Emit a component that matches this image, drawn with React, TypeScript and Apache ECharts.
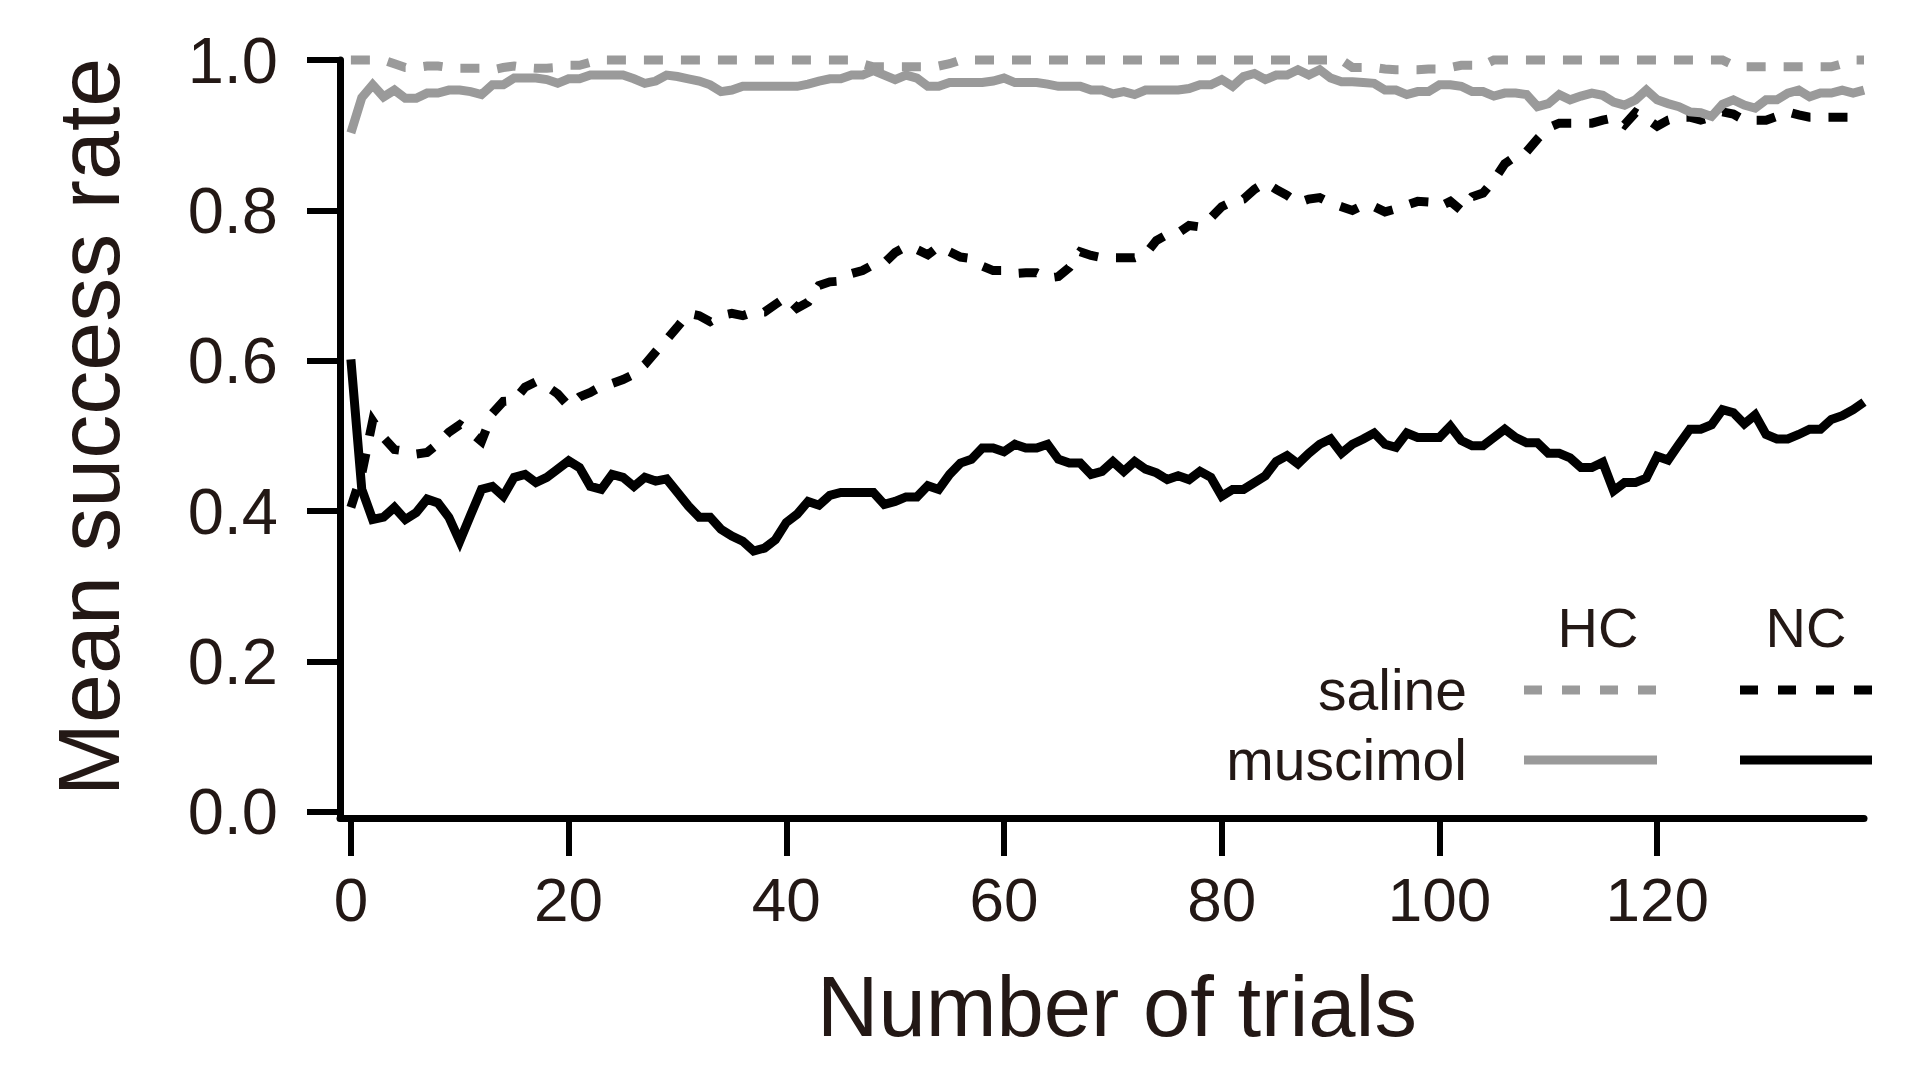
import React, { useEffect, useRef } from "react";
import * as echarts from "echarts";

// Trial index (x values)
const trials: number[] = Array.from({ length: 140 }, (_, i) => i);

// HC saline (grey dashed)
const hcSaline: number[] = [
  1, 1, 1, 1, 0.995, 0.99, 0.99, 0.992, 0.992, 0.99,
  0.989, 0.989, 0.989, 0.987, 0.99, 0.992, 0.99, 0.989, 0.989, 0.99,
  0.993, 0.993, 0.997, 1, 1, 1, 1, 1, 1, 1,
  1, 1, 1, 1, 1, 1, 1, 1, 1, 1,
  1, 1, 1, 1, 1, 1, 1, 0.995, 0.991, 0.991,
  0.991, 0.991, 0.991, 0.991, 0.992, 0.995, 1, 1, 1, 1,
  1, 1, 1, 1, 1, 1, 1, 1, 1, 1,
  1, 1, 1, 1, 1, 1, 1, 1, 1, 1,
  1, 1, 1, 1, 1, 1, 1, 1, 1, 1,
  1, 1, 0.99, 0.99, 0.99, 0.988, 0.987, 0.987, 0.987, 0.988,
  0.988, 0.99, 0.993, 0.993, 0.993, 1, 1, 1, 1, 1,
  1, 1, 1, 1, 1, 1, 1, 1, 1, 1,
  1, 1, 1, 1, 1, 1, 1, 0.993, 0.991, 0.991,
  0.991, 0.991, 0.991, 0.991, 0.991, 0.991, 0.991, 0.995, 1, 1,
];

// HC muscimol (grey solid)
const hcMuscimol: number[] = [
  0.903, 0.95, 0.967, 0.951, 0.96, 0.949, 0.949, 0.956, 0.956, 0.96,
  0.96, 0.958, 0.954, 0.967, 0.967, 0.976, 0.976, 0.976, 0.974, 0.969,
  0.975, 0.975, 0.98, 0.98, 0.98, 0.98, 0.975, 0.969, 0.972, 0.98,
  0.978, 0.975, 0.972, 0.967, 0.958, 0.96, 0.965, 0.965, 0.965, 0.965,
  0.965, 0.965, 0.968, 0.972, 0.975, 0.975, 0.98, 0.98, 0.986, 0.98,
  0.974, 0.98, 0.976, 0.965, 0.965, 0.97, 0.97, 0.97, 0.97, 0.972,
  0.976, 0.97, 0.97, 0.97, 0.968, 0.965, 0.965, 0.965, 0.96, 0.96,
  0.955, 0.958, 0.954, 0.96, 0.96, 0.96, 0.96, 0.962, 0.967, 0.967,
  0.974, 0.965, 0.978, 0.982, 0.974, 0.98, 0.98, 0.987, 0.98, 0.987,
  0.976, 0.971, 0.971, 0.97, 0.969, 0.96, 0.96, 0.954, 0.958, 0.958,
  0.967, 0.967, 0.965, 0.958, 0.958, 0.952, 0.956, 0.956, 0.954, 0.938,
  0.942, 0.954, 0.947, 0.952, 0.956, 0.953, 0.944, 0.94, 0.947, 0.96,
  0.947, 0.942, 0.938, 0.931, 0.93, 0.925, 0.941, 0.947, 0.94, 0.936,
  0.947, 0.947, 0.956, 0.96, 0.951, 0.956, 0.956, 0.96, 0.956, 0.96,
];

// NC saline (black dashed)
const ncSaline: number[] = [
  0.405, 0.45, 0.52, 0.498, 0.482, 0.48, 0.476, 0.478, 0.49, 0.505,
  0.515, 0.505, 0.493, 0.53, 0.546, 0.547, 0.565, 0.572, 0.566, 0.556,
  0.54, 0.552, 0.558, 0.566, 0.57, 0.575, 0.582, 0.595, 0.612, 0.628,
  0.645, 0.663, 0.66, 0.652, 0.66, 0.663, 0.66, 0.665, 0.665, 0.675,
  0.685, 0.67, 0.678, 0.7, 0.705, 0.706, 0.716, 0.72, 0.728, 0.73,
  0.744, 0.752, 0.748, 0.741, 0.752, 0.745, 0.738, 0.736, 0.726, 0.72,
  0.72, 0.716, 0.717, 0.717, 0.71, 0.712, 0.724, 0.745, 0.74, 0.737,
  0.737, 0.737, 0.737, 0.742, 0.76, 0.768, 0.77, 0.78, 0.778, 0.79,
  0.805, 0.812, 0.815, 0.828, 0.837, 0.828, 0.82, 0.81, 0.815, 0.817,
  0.81, 0.805, 0.8, 0.807, 0.805, 0.798, 0.802, 0.807, 0.812, 0.811,
  0.805, 0.812, 0.8, 0.818, 0.823, 0.84, 0.862, 0.872, 0.878, 0.895,
  0.91, 0.916, 0.916, 0.916, 0.916, 0.92, 0.923, 0.914, 0.93, 0.922,
  0.912, 0.92, 0.924, 0.924, 0.92, 0.924, 0.931, 0.928, 0.92, 0.92,
  0.92, 0.925, 0.931, 0.927, 0.924, 0.924, 0.924, 0.924, 0.924, 0.924,
];

// NC muscimol (black solid)
const ncMuscimol: number[] = [
  0.602, 0.429, 0.389, 0.392, 0.405, 0.389, 0.398, 0.416, 0.411, 0.392,
  0.36, 0.395, 0.429, 0.433, 0.42, 0.445, 0.449, 0.438, 0.445, 0.456,
  0.467, 0.458, 0.433, 0.429, 0.449, 0.445, 0.433, 0.445, 0.44, 0.443,
  0.425, 0.407, 0.392, 0.392, 0.376, 0.367, 0.36, 0.347, 0.351, 0.362,
  0.385, 0.396, 0.413, 0.408, 0.421, 0.425, 0.425, 0.425, 0.425, 0.409,
  0.413, 0.419, 0.419, 0.434, 0.429, 0.449, 0.464, 0.469, 0.484, 0.484,
  0.479, 0.489, 0.484, 0.484, 0.489, 0.469, 0.464, 0.464, 0.449, 0.453,
  0.466, 0.453, 0.466, 0.456, 0.451, 0.442, 0.447, 0.442, 0.453, 0.445,
  0.42, 0.429, 0.429, 0.438, 0.447, 0.466, 0.474, 0.463, 0.477, 0.489,
  0.496, 0.477, 0.489, 0.496, 0.504, 0.489, 0.485, 0.504, 0.498, 0.498,
  0.498, 0.513, 0.494, 0.487, 0.487, 0.498, 0.509, 0.498, 0.491, 0.491,
  0.477, 0.477, 0.471, 0.458, 0.458, 0.465, 0.427, 0.438, 0.438, 0.444,
  0.473, 0.468, 0.489, 0.509, 0.509, 0.515, 0.535, 0.531, 0.516, 0.528,
  0.502, 0.496, 0.496, 0.502, 0.509, 0.509, 0.522, 0.527, 0.535, 0.545,
];

const xTicks: number[] = [0, 20, 40, 60, 80, 100, 120];
const yTicks: number[] = [0, 0.2, 0.4, 0.6, 0.8, 1.0];
const legendCols: string[] = ["HC", "NC"];
const legendRows: string[] = ["saline", "muscimol"];

const FONT = "'Liberation Sans', Arial, Helvetica, sans-serif";
const TEXT = "#231815";
const GREY = "#9a9a9a";
const BLACK = "#000000";
const DASH = [19, 18];
const LW = 9;

type Def = { name: string; data: number[]; color: string; dashed: boolean; col: number; row: number };
const defs: Def[] = [
  { name: "HC saline", data: hcSaline, color: GREY, dashed: true, col: 0, row: 0 },
  { name: "NC saline", data: ncSaline, color: BLACK, dashed: true, col: 1, row: 0 },
  { name: "HC muscimol", data: hcMuscimol, color: GREY, dashed: false, col: 0, row: 1 },
  { name: "NC muscimol", data: ncMuscimol, color: BLACK, dashed: false, col: 1, row: 1 },
];

export default function App() {
  const ref = useRef<HTMLDivElement>(null);

  useEffect(() => {
    if (!ref.current) return;
    const chart = echarts.init(ref.current, null, { renderer: "svg" });

    const colX = [[1524, 1657], [1740, 1872]];
    const colCenter = [1598, 1806];
    const rowY = [690, 760];

    const graphic: any[] = [];
    legendCols.forEach((c, i) => {
      graphic.push({
        type: "text",
        x: colCenter[i],
        y: 627,
        style: { text: c, fontSize: 56, fontFamily: FONT, fill: TEXT, align: "center", verticalAlign: "middle" },
      });
    });
    legendRows.forEach((r, i) => {
      graphic.push({
        type: "text",
        x: 1467,
        y: rowY[i],
        style: { text: r, fontSize: 57, fontFamily: FONT, fill: TEXT, align: "right", verticalAlign: "middle" },
      });
    });
    defs.forEach((d) => {
      graphic.push({
        type: "line",
        shape: { x1: colX[d.col][0], y1: rowY[d.row], x2: colX[d.col][1], y2: rowY[d.row] },
        style: { stroke: d.color, lineWidth: 9, lineDash: d.dashed ? [18, 20] : null },
      });
    });

    chart.setOption({
      animation: false,
      backgroundColor: "#ffffff",
      grid: { left: 340, right: 59, top: 60, bottom: 252, containLabel: false },
      xAxis: {
        type: "value",
        min: -1,
        max: 139,
        name: "Number of trials",
        nameLocation: "middle",
        nameGap: 146,
        nameTextStyle: { fontFamily: FONT, fontSize: 85, color: TEXT, padding: [0, 0, 0, 30] },
        axisLine: { show: true, onZero: false, lineStyle: { color: BLACK, width: 7 } },
        axisTick: { show: true, customValues: xTicks, length: 38, lineStyle: { color: BLACK, width: 6 } },
        axisLabel: { customValues: xTicks, margin: 50, fontSize: 62, fontFamily: FONT, color: TEXT },
        splitLine: { show: false },
      },
      yAxis: {
        type: "value",
        min: -0.008,
        max: 1,
        name: "Mean success rate",
        nameLocation: "middle",
        nameRotate: 90,
        nameGap: 208,
        nameTextStyle: { fontFamily: FONT, fontSize: 88, color: TEXT, padding: [0, 0, 0, 24] },
        axisLine: { show: true, onZero: false, lineStyle: { color: BLACK, width: 7 } },
        axisTick: { show: true, customValues: yTicks, length: 33, lineStyle: { color: BLACK, width: 6 } },
        axisLabel: {
          customValues: yTicks,
          margin: 62,
          fontSize: 65,
          fontFamily: FONT,
          color: TEXT,
          formatter: (v: number) => v.toFixed(1),
        },
        splitLine: { show: false },
      },
      series: defs.map((d) => ({
        name: d.name,
        type: "line",
        data: trials.map((t, i) => [t, d.data[i]]),
        showSymbol: false,
        clip: false,
        lineStyle: { color: d.color, width: LW, type: d.dashed ? DASH : "solid", cap: "butt", join: "miter" },
        emphasis: { disabled: true },
      })),
      graphic,
    });

    return () => chart.dispose();
  }, []);

  return <div ref={ref} style={{ position: "fixed", left: 0, top: 0, width: 1923, height: 1070 }} />;
}
